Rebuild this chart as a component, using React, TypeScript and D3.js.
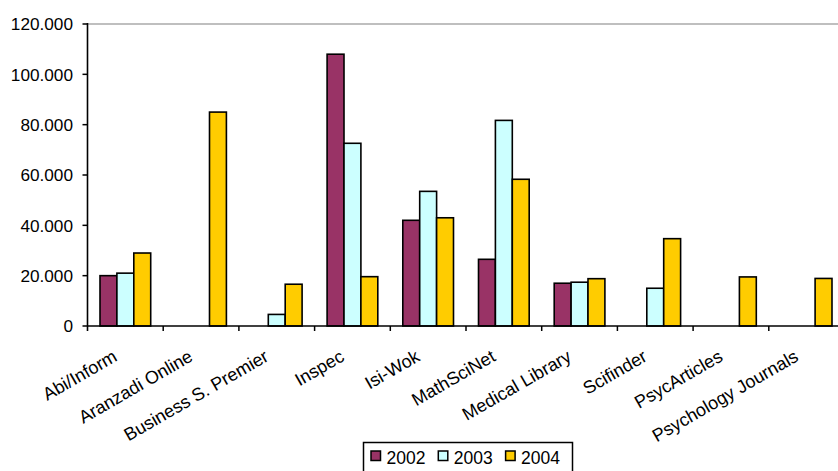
import React from "react";
import * as d3 from "d3";

const categories = [
  "Abi/Inform",
  "Aranzadi Online",
  "Business S. Premier",
  "Inspec",
  "Isi-Wok",
  "MathSciNet",
  "Medical Library",
  "Scifinder",
  "PsycArticles",
  "Psychology Journals",
];
const seriesNames = ["2002", "2003", "2004"];
const v2002: (number | null)[] = [20000, null, null, 108000, 42000, 26500, 17000, null, null, null];
const v2003: (number | null)[] = [21000, null, 4600, 72600, 53500, 81700, 17400, 15000, null, null];
const v2004: (number | null)[] = [29000, 85000, 16600, 19600, 43000, 58300, 18800, 34700, 19500, 18900];
const yTicks = [0, 20000, 40000, 60000, 80000, 100000, 120000];
const colors = ["#993366", "#CCFFFF", "#FFCC00"];

const W = 838;
const H = 471;
const x0 = 87.5;
const catW = 75.7;
const yTop = 24;
const yBase = 326;

export default function App() {
  const series = [v2002, v2003, v2004];
  const x = d3
    .scaleBand<string>()
    .domain(categories)
    .range([x0, x0 + catW * categories.length])
    .padding(0);
  const xs = d3
    .scaleBand<string>()
    .domain(seriesNames)
    .range([12.5, catW - 12.5])
    .padding(0);
  const y = d3.scaleLinear().domain([0, 120000]).range([yBase, yTop]);
  const loc = d3.formatLocale({ decimal: ",", thousands: ".", grouping: [3], currency: ["", ""] });
  const fmt = loc.format(",.0f");
  const font = "'Liberation Sans', Arial, sans-serif";

  return (
    <svg
      width={W}
      height={H}
      style={{ position: "absolute", left: 0, top: 0, background: "#fff" }}
      fontFamily={font}
    >
      <rect x={0} y={0} width={W} height={H} fill="#fff" />
      <line x1={x0} x2={W} y1={yTop} y2={yTop} stroke="#808080" strokeWidth={1.2} />
      {categories.map((c, i) => (
        <g key={c}>
          {series.map((s, j) => {
            const v = s[i];
            if (v == null) return null;
            const bx = (x(c) as number) + (xs(seriesNames[j]) as number);
            return (
              <rect
                key={j}
                x={bx}
                y={y(v)}
                width={xs.bandwidth()}
                height={yBase - y(v)}
                fill={colors[j]}
                stroke="#000"
                strokeWidth={1.6}
              />
            );
          })}
        </g>
      ))}
      <line x1={x0} x2={x0} y1={yTop - 1} y2={yBase + 5} stroke="#000" strokeWidth={1.6} />
      {yTicks.map((t) => (
        <g key={t}>
          <line x1={x0 - 5} x2={x0} y1={y(t)} y2={y(t)} stroke="#000" strokeWidth={1.5} />
          <text x={73} y={y(t)} dy="0.36em" textAnchor="end" fontSize={17.2} fill="#000">
            {fmt(t)}
          </text>
        </g>
      ))}
      <line x1={x0} x2={W} y1={yBase} y2={yBase} stroke="#000" strokeWidth={1.6} />
      {categories.map((c, i) => (
        <line
          key={"t" + i}
          x1={(x(c) as number) + catW}
          x2={(x(c) as number) + catW}
          y1={yBase}
          y2={yBase + 5}
          stroke="#000"
          strokeWidth={1.5}
        />
      ))}
      {categories.map((c) => {
        const cx = (x(c) as number) + catW / 2 - 7;
        const cy = 360;
        return (
          <text
            key={"l" + c}
            x={cx}
            y={cy}
            textAnchor="end"
            fontSize={18}
            fill="#000"
            transform={`rotate(-30, ${cx}, ${cy})`}
          >
            {c}
          </text>
        );
      })}
      <rect x={363.5} y={442.5} width={209} height={40} fill="#fff" stroke="#000" strokeWidth={1.5} />
      {seriesNames.map((s, j) => (
        <g key={s} transform={`translate(${371 + j * 67.3}, 0)`}>
          <rect x={0} y={451} width={9.5} height={9.5} fill={colors[j]} stroke="#000" strokeWidth={1.5} />
          <text x={15.5} y={464} fontSize={17.5} fill="#000">
            {s}
          </text>
        </g>
      ))}
    </svg>
  );
}
